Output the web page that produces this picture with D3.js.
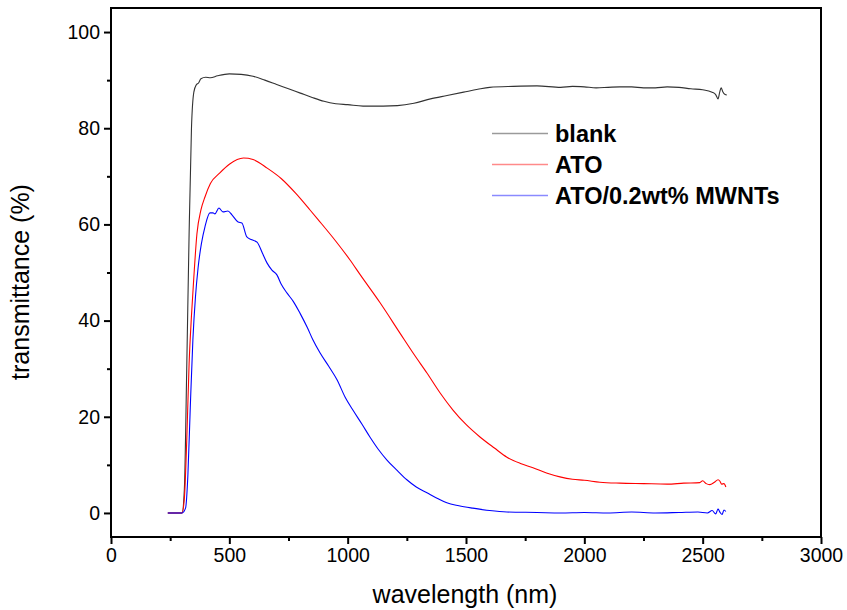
<!DOCTYPE html>
<html>
<head>
<meta charset="utf-8">
<script src="https://cdn.jsdelivr.net/npm/d3@7"></script>
<style>
  body { margin: 0; background: #fff; }
  svg { display: block; font-family: "Liberation Sans", Arial, sans-serif; }
</style>
</head>
<body>
<div id="chart"></div>
<script>
// wavelength (nm) / transmittance (%)
var blankWl = [240,300,310,320,330,340,350,360,370,380,400,420,450,500,550,600,650,700,750,800,850,900,950,1000,1065,1150,1210,1280,1350,1420,1490,1550,1600,1700,1800,1900,1950,2000,2050,2100,2150,2200,2250,2300,2350,2400,2450,2500,2540,2555,2565,2572,2578,2585,2595,2602];
var blankT  = [0,0,5,30,58,80,87.5,89,89.4,90.3,90.6,90.5,90.9,91.3,91.2,90.8,90,89.1,88.2,87.3,86.4,85.6,85.1,84.9,84.6,84.6,84.7,85.2,86.1,86.8,87.5,88.1,88.5,88.7,88.8,88.5,88.7,88.6,88.4,88.5,88.6,88.6,88.4,88.4,88.6,88.5,88.2,88.0,87.5,87.0,86.1,87.5,88.4,87.6,87.0,86.9];

var atoWl = [240,300,310,320,330,340,350,363,380,397,420,460,500,560,600,660,720,780,841,875,950,1010,1052,1137,1221,1280,1335,1390,1445,1500,1559,1620,1673,1730,1783,1840,1897,1950,2000,2066,2150,2250,2350,2420,2488,2500,2515,2530,2550,2565,2573,2580,2590,2598];
var atoT  = [0,0,3,15,31,41,49,58,63,65.7,68.5,70.7,72.5,73.8,73.5,71.7,69.5,66.5,63,61,56.5,52.6,49.6,43.7,37.4,33,29.1,25,21.4,18.4,15.8,13.5,11.6,10.3,9.4,8.3,7.5,7.0,6.8,6.4,6.2,6.1,6.0,6.2,6.3,6.7,6.1,5.9,6.4,6.9,6.6,6.0,6.1,5.4];

var mwntWl = [240,300,315,325,335,346,357,368,382,397,418,431,439,456,473,494,511,537,553,574,595,617,640,659,680,701,720,744,770,799,830,853,883,920,955,990,1022,1060,1094,1130,1166,1210,1250,1290,1335,1380,1419,1470,1529,1600,1673,1800,1900,2000,2100,2200,2300,2400,2480,2520,2540,2555,2565,2575,2582,2590,2598];
var mwntT  = [0,0,1,8,22,36,45,51,56,59.5,62.4,62.4,62.2,63.4,62.6,62.8,62,60.5,60.3,57.4,56.8,56.3,54,52,50.5,49.5,47.5,45.7,44,41.5,38.5,36,33.3,30.5,27.7,24,21.4,18.5,15.8,13.2,11,8.8,6.9,5.4,4.2,3,2.1,1.5,1,0.5,0.2,0.1,0,0.1,0,0.2,0,0.1,0.2,0,0.5,-0.2,0.8,0,-0.3,0.6,0.3];

var seriesNames  = ["blank", "ATO", "ATO/0.2wt% MWNTs"];
var seriesColors = ["#333333", "#ff0000", "#0000ff"];
var legendColors = ["#9a9a9a", "#ff8a8a", "#8a8aff"];

var xMajor = [0,500,1000,1500,2000,2500,3000];
var xMinor = [250,750,1250,1750,2250,2750];
var yMajor = [0,20,40,60,80,100];
var yMinor = [10,30,50,70,90];

(function () {
    var W = 847, H = 610;
    var pLeft = 111, pRight = 821, pTop = 8, pBottom = 537;

    var svg = d3.select("#chart").append("svg")
        .attr("width", W)
        .attr("height", H);

    var x = d3.scaleLinear().domain([0, 3000]).range([pLeft, pRight]);
    var y = d3.scaleLinear().domain([-5, 105]).range([pBottom, pTop]);

    var seriesData = [
        d3.zip(blankWl, blankT),
        d3.zip(atoWl, atoT),
        d3.zip(mwntWl, mwntT)
    ];

    var line = d3.line()
        .curve(d3.curveMonotoneX)
        .x(function (d) { return x(d[0]); })
        .y(function (d) { return y(d[1]); });

    svg.append("g")
      .selectAll("path")
      .data(seriesData)
      .enter().append("path")
      .attr("d", line)
      .attr("fill", "none")
      .attr("stroke", function (d, i) { return seriesColors[i]; })
      .attr("stroke-width", 1.1)
      .attr("stroke-linejoin", "round");

    // frame
    svg.append("rect")
      .attr("x", pLeft).attr("y", pTop)
      .attr("width", pRight - pLeft).attr("height", pBottom - pTop)
      .attr("fill", "none")
      .attr("stroke", "#000")
      .attr("stroke-width", 2);

    function styleAxis(g) {
        g.select(".domain").remove();
        g.selectAll(".tick line").attr("stroke", "#000").attr("stroke-width", 2);
        g.selectAll(".tick text").attr("fill", "#000").style("font-size", "19.5px");
    }

    svg.append("g")
      .attr("transform", "translate(0," + pBottom + ")")
      .call(d3.axisBottom(x).tickValues(xMajor).tickSize(7).tickPadding(4).tickFormat(d3.format("d")))
      .call(styleAxis);

    svg.append("g")
      .attr("transform", "translate(0," + pBottom + ")")
      .call(d3.axisBottom(x).tickValues(xMinor).tickSize(4).tickFormat(""))
      .call(styleAxis);

    svg.append("g")
      .attr("transform", "translate(" + pLeft + ",0)")
      .call(d3.axisLeft(y).tickValues(yMajor).tickSize(7).tickPadding(4).tickFormat(d3.format("d")))
      .call(styleAxis);

    svg.append("g")
      .attr("transform", "translate(" + pLeft + ",0)")
      .call(d3.axisLeft(y).tickValues(yMinor).tickSize(4).tickFormat(""))
      .call(styleAxis);

    // axis titles
    svg.append("text")
      .attr("x", 465).attr("y", 603)
      .attr("text-anchor", "middle")
      .style("font-size", "25px")
      .text("wavelength (nm)");

    svg.append("text")
      .attr("transform", "translate(29,282) rotate(-90)")
      .attr("text-anchor", "middle")
      .style("font-size", "25px")
      .text("transmittance (%)");

    // legend
    var legend = svg.append("g").selectAll("g")
      .data(seriesNames)
      .enter().append("g")
      .attr("transform", function (d, i) { return "translate(492," + [133, 164, 195][i] + ")"; });

    legend.append("line")
      .attr("x1", 0).attr("x2", 56)
      .attr("y1", 0.5).attr("y2", 0.5)
      .attr("stroke", function (d, i) { return legendColors[i]; })
      .attr("stroke-width", 1.5);

    legend.append("text")
      .attr("x", 63).attr("y", 8.5)
      .style("font-size", "23.5px")
      .style("font-weight", "bold")
      .text(function (d) { return d; });
})();
</script>
</body>
</html>
